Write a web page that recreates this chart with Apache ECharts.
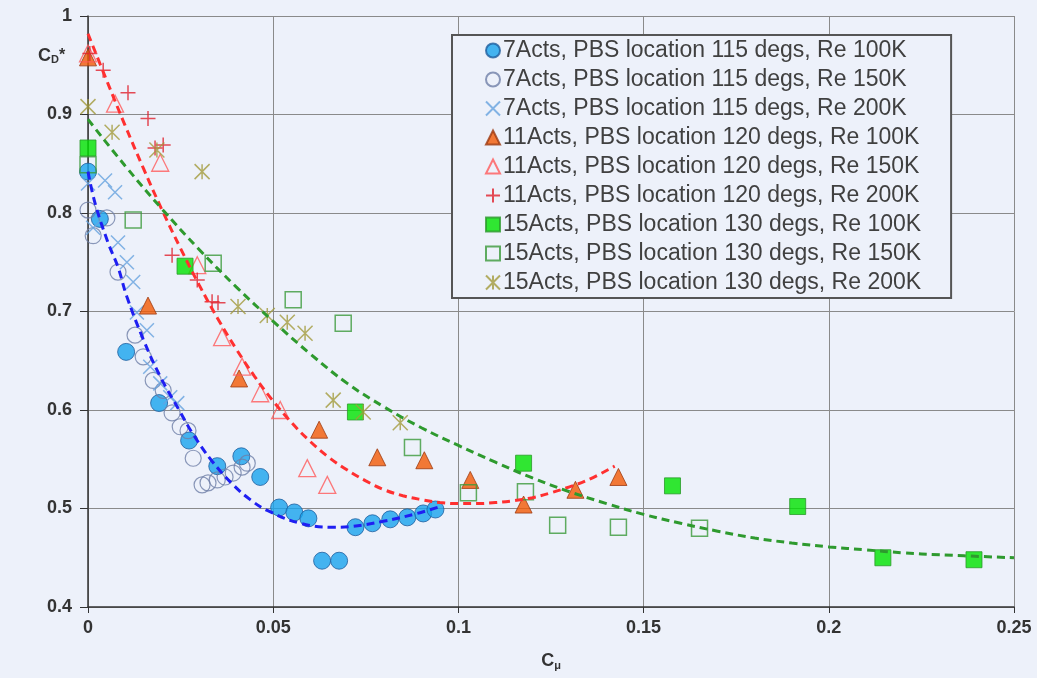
<!DOCTYPE html>
<html>
<head>
<meta charset="utf-8">
<script src="https://cdn.jsdelivr.net/npm/echarts@6/dist/echarts.min.js"></script>
<style>
html,body{margin:0;padding:0;background:#edf1fa;}
#chart{width:1037px;height:678px;}
</style>
</head>
<body>
<div id="chart"></div>
<script>
// ---- tick values ----
const xTicks = [0, 0.05, 0.1, 0.15, 0.2, 0.25];
const yTicks = [0.4, 0.5, 0.6, 0.7, 0.8, 0.9, 1];

// ---- series names ----
const names = [
  '7Acts, PBS location 115 degs, Re 100K',
  '7Acts, PBS location 115 degs, Re 150K',
  '7Acts, PBS location 115 degs, Re 200K',
  '11Acts, PBS location 120 degs, Re 100K',
  '11Acts, PBS location 120 degs, Re 150K',
  '11Acts, PBS location 120 degs, Re 200K',
  '15Acts, PBS location 130 degs, Re 100K',
  '15Acts, PBS location 130 degs, Re 150K',
  '15Acts, PBS location 130 degs, Re 200K'
];

// ---- data [Cmu, CD*] ----
const a7_100 = [[0,0.842],[0.0032,0.794],[0.0103,0.659],[0.0192,0.607],[0.0273,0.569],[0.0349,0.543],[0.0414,0.553],[0.0465,0.532],[0.0516,0.501],[0.0557,0.496],[0.0595,0.490],[0.0632,0.447],[0.0678,0.447],[0.0722,0.481],[0.0768,0.485],[0.0816,0.489],[0.0862,0.491],[0.0905,0.495],[0.0938,0.499]];
const a7_150 = [[0,0.803],[0.0014,0.777],[0.0051,0.795],[0.0081,0.740],[0.0127,0.676],[0.0149,0.654],[0.0176,0.630],[0.0203,0.620],[0.0227,0.597],[0.0249,0.583],[0.0270,0.579],[0.0284,0.551],[0.0308,0.524],[0.0324,0.526],[0.0349,0.529],[0.0370,0.532],[0.0392,0.536],[0.0416,0.542],[0.0430,0.546]];
const a7_200 = [[0,0.830],[0.0046,0.833],[0.0073,0.821],[0.0014,0.785],[0.0081,0.770],[0.0105,0.750],[0.0122,0.730],[0.0132,0.699],[0.0159,0.681],[0.0168,0.644],[0.0195,0.627],[0.0222,0.613],[0.0241,0.607]];
const a11_100 = [[0,0.958],[0.0162,0.706],[0.0408,0.632],[0.0624,0.580],[0.0781,0.552],[0.0908,0.549],[0.1032,0.529],[0.1176,0.504],[0.1316,0.519],[0.1432,0.532]];
const a11_150 = [[0,0.962],[0.0073,0.911],[0.0195,0.851],[0.0295,0.747],[0.0362,0.674],[0.0416,0.644],[0.0465,0.617],[0.0519,0.600],[0.0592,0.541],[0.0646,0.524]];
const a11_200 = [[0.0005,0.962],[0.0041,0.945],[0.0108,0.922],[0.0162,0.896],[0.0181,0.866],[0.0203,0.869],[0.0227,0.757],[0.0295,0.732],[0.0335,0.710],[0.0351,0.709]];
const a15_100 = [[0,0.866],[0.0262,0.746],[0.0722,0.598],[0.1176,0.546],[0.1578,0.523],[0.1916,0.502],[0.2146,0.450],[0.2392,0.448]];
const a15_150 = [[0,0.849],[0.0122,0.793],[0.0338,0.749],[0.0554,0.712],[0.0689,0.688],[0.0876,0.562],[0.1027,0.516],[0.1181,0.517],[0.1268,0.483],[0.1432,0.481],[0.1651,0.480]];
const a15_200 = [[0,0.908],[0.0065,0.882],[0.0186,0.864],[0.0308,0.842],[0.0405,0.705],[0.0484,0.696],[0.0538,0.689],[0.0586,0.678],[0.0662,0.610],[0.0743,0.598],[0.0843,0.587]];

// ---- trend lines, positions ----
const trend7 = [[0,0.842],[0.0019,0.810],[0.0054,0.770],[0.0081,0.745],[0.0105,0.715],[0.0149,0.672],[0.0195,0.634],[0.0249,0.598],[0.0281,0.577],[0.0335,0.548],[0.0392,0.524],[0.0438,0.509],[0.0484,0.498],[0.0573,0.485],[0.0662,0.481],[0.0716,0.482],[0.0797,0.487],[0.0889,0.495],[0.0951,0.502]];
const trend11 = [[0,0.982],[0.005,0.935],[0.010,0.889],[0.015,0.845],[0.020,0.803],[0.025,0.764],[0.030,0.727],[0.035,0.693],[0.040,0.662],[0.045,0.634],[0.050,0.609],[0.055,0.587],[0.060,0.568],[0.065,0.552],[0.070,0.539],[0.075,0.528],[0.080,0.519],[0.085,0.513],[0.090,0.509],[0.095,0.506],[0.100,0.505],[0.105,0.505],[0.110,0.506],[0.115,0.508],[0.120,0.511],[0.125,0.516],[0.130,0.522],[0.135,0.529],[0.1422,0.543]];
const trend15 = [[0,0.895],[0.01,0.848],[0.02,0.804],[0.03,0.763],[0.04,0.725],[0.05,0.690],[0.06,0.657],[0.07,0.627],[0.08,0.603],[0.09,0.582],[0.10,0.564],[0.11,0.547],[0.12,0.531],[0.13,0.517],[0.14,0.505],[0.15,0.494],[0.16,0.485],[0.17,0.477],[0.18,0.470],[0.19,0.465],[0.20,0.461],[0.21,0.458],[0.22,0.455],[0.23,0.453],[0.25,0.450]];

const FONT = 'Liberation Sans, Arial, sans-serif';
const xPath = 'path://M0,0L20,20M20,0L0,20';
const plusPath = 'path://M10,0L10,20M0,10L20,10';
const starPath = 'path://M0,0L20,20M20,0L0,20M10,0L10,20';

function sc(name, data, symbol, size, itemStyle) {
  return { name, type: 'scatter', data, symbol, symbolSize: size, itemStyle, z: 2 };
}
function tr(data, color) {
  return { type: 'line', data, smooth: 0.4, showSymbol: false, symbol: 'none', silent: true, z: 3,
    lineStyle: { color, width: 3, type: [8, 5] } };
}

const chart = echarts.init(document.getElementById('chart'), null, { renderer: 'canvas' });
chart.setOption({
  backgroundColor: '#edf1fa',
  animation: false,
  grid: { left: 88, right: 23, top: 16, bottom: 71 },
  xAxis: {
    type: 'value', min: xTicks[0], max: xTicks[xTicks.length - 1], interval: xTicks[1] - xTicks[0],
    axisLine: { show: true, onZero: false, lineStyle: { color: '#333', width: 1.5 } },
    axisTick: { show: true, length: 6, lineStyle: { color: '#333' } },
    axisLabel: { color: '#333', fontFamily: FONT, fontWeight: 'bold', fontSize: 18, margin: 12 },
    splitLine: { show: true, lineStyle: { color: '#8a8a8a', width: 1 } },
    name: '{c|C}{m|μ}', nameLocation: 'middle', nameGap: 45,
    nameTextStyle: { rich: {
      c: { fontFamily: FONT, fontWeight: 'bold', fontSize: 18, color: '#333' },
      m: { fontFamily: FONT, fontWeight: 'bold', fontSize: 11, color: '#333', verticalAlign: 'bottom', padding: [8, 0, 0, 0] }
    } }
  },
  yAxis: {
    type: 'value', min: yTicks[0], max: yTicks[yTicks.length - 1], interval: 0.1,
    axisLine: { show: true, lineStyle: { color: '#333', width: 1.5 } },
    axisTick: { show: true, length: 8, lineStyle: { color: '#333' } },
    axisLabel: { color: '#333', fontFamily: FONT, fontWeight: 'bold', fontSize: 18, margin: 16,
      formatter: v => String(Math.round(v * 10) / 10) },
    splitLine: { show: true, lineStyle: { color: '#8a8a8a', width: 1 } }
  },
  graphic: [{
    type: 'text', left: 38, top: 47, silent: true,
    style: {
      text: '{c|C}{d|D}{s|*}',
      rich: {
        c: { fontFamily: FONT, fontWeight: 'bold', fontSize: 18, fill: '#333' },
        d: { fontFamily: FONT, fontWeight: 'bold', fontSize: 11, fill: '#333', verticalAlign: 'bottom', padding: [6, 0, 0, 0] },
        s: { fontFamily: FONT, fontWeight: 'bold', fontSize: 16, fill: '#333' }
      }
    }
  }],
  legend: {
    orient: 'vertical', left: 452, top: 35,
    padding: [4, 30, 4, 33],
    itemGap: 6, itemWidth: 14, itemHeight: 14,
    backgroundColor: '#edf1fa',
    borderColor: '#555', borderWidth: 2,
    selectedMode: false,
    textStyle: { fontFamily: FONT, fontSize: 23, color: '#404040', lineHeight: 23, padding: [0, 0, 0, -2] },
    data: names
  },
  series: [
    sc(names[0], a7_100, 'circle', 17, { color: '#18a4ee', borderColor: '#1f5e9e', borderWidth: 1 }),
    sc(names[1], a7_150, 'circle', 16, { color: 'transparent', borderColor: '#6f80a8', borderWidth: 1.2 }),
    sc(names[2], a7_200, xPath, 14, { color: 'transparent', borderColor: '#67a2de', borderWidth: 1.5 }),
    sc(names[3], a11_100, 'triangle', 17, { color: '#f25a05', borderColor: '#9c3a10', borderWidth: 1 }),
    sc(names[4], a11_150, 'triangle', 17, { color: 'transparent', borderColor: '#ff5a5a', borderWidth: 1.3 }),
    sc(names[5], a11_200, plusPath, 15, { color: 'transparent', borderColor: '#e0202c', borderWidth: 1.5 }),
    sc(names[6], a15_100, 'rect', 16, { color: '#00e400', borderColor: '#2a9a2a', borderWidth: 1 }),
    sc(names[7], a15_150, 'rect', 16, { color: 'transparent', borderColor: '#3a9a3a', borderWidth: 1.5 }),
    sc(names[8], a15_200, starPath, 15, { color: 'transparent', borderColor: '#a29b3c', borderWidth: 1.5 }),
    tr(trend7, '#1f1ff2'),
    tr(trend11, '#ff3030'),
    tr(trend15, '#2e9a2e')
  ]
});
</script>
</body>
</html>
